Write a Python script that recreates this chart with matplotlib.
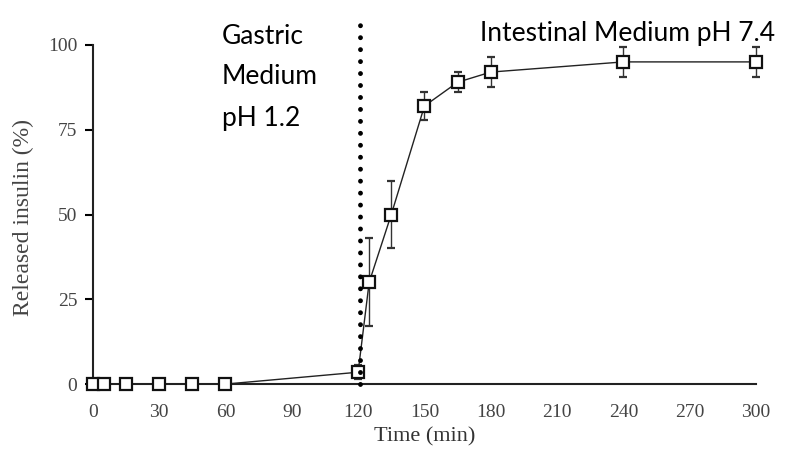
import matplotlib.pyplot as plt
import numpy as np

# release profile
time_min = [0, 5, 15, 30, 45, 60, 120, 125, 135, 150, 165, 180, 240, 300]
released = [0, 0, 0, 0, 0, 0, 3.5, 30, 50, 82, 89, 92, 95, 95]
err = [0, 0, 0, 0, 0, 0, 2, 13, 10, 4, 3, 4.5, 4.5, 4.5]

x_ticks = [0, 30, 60, 90, 120, 150, 180, 210, 240, 270, 300]
y_ticks = [0, 25, 50, 75, 100]
switch_time = 121  # change of medium

fig = plt.figure(figsize=(7.86, 4.54), dpi=100)
ax = fig.add_axes([0.118, 0.154, 0.844, 0.747])

ax.errorbar(time_min, released, yerr=err, color='#222222', lw=1.0,
            marker='s', markersize=9, markerfacecolor='white',
            markeredgecolor='#111111', markeredgewidth=1.6,
            ecolor='#333333', elinewidth=1.0, capsize=3, clip_on=False, zorder=3)

# dotted separator between gastric and intestinal phases
ax.plot([switch_time, switch_time], [0, 109], color='black', lw=3.5,
        linestyle=(0, (0.01, 2.45)), dash_capstyle='round', clip_on=False, zorder=4)

ax.set_xlim(0, 300)
ax.set_ylim(0, 100)
ax.set_xticks(x_ticks)
ax.set_yticks(y_ticks)

for s in ['top', 'right']:
    ax.spines[s].set_visible(False)
for s in ['left', 'bottom']:
    ax.spines[s].set_linewidth(1.5)
    ax.spines[s].set_color('#222222')

ax.tick_params(axis='x', length=0, pad=14, labelsize=14, labelcolor='#444444')
ax.tick_params(axis='y', length=6, width=1.5, pad=5, labelsize=14, labelcolor='#444444')
for lab in ax.get_xticklabels() + ax.get_yticklabels():
    lab.set_family('Liberation Serif')

ax.set_xlabel('Time (min)', family='Liberation Serif', fontsize=16, color='#333333')
ax.xaxis.label.set_va('center')
ax.xaxis.set_label_coords(0.5, -0.156)
ax.set_ylabel('Released insulin (%)', family='Liberation Serif', fontsize=17, color='#444444')
ax.yaxis.label.set_va('center')
ax.yaxis.set_label_coords(-0.104, 0.49)

fig.text(222/786, 1 - 36/454, 'Gastric', family='Lato', fontsize=19, va='center', ha='left')
fig.text(222/786, 1 - 77/454, 'Medium', family='Lato', fontsize=19, va='center', ha='left')
fig.text(222/786, 1 - 119/454, 'pH 1.2', family='Lato', fontsize=19, va='center', ha='left')
fig.text(480/786, 1 - 33/454, 'Intestinal Medium pH 7.4', family='Lato', fontsize=19, va='center', ha='left')

fig.savefig('out.png', dpi=100)
